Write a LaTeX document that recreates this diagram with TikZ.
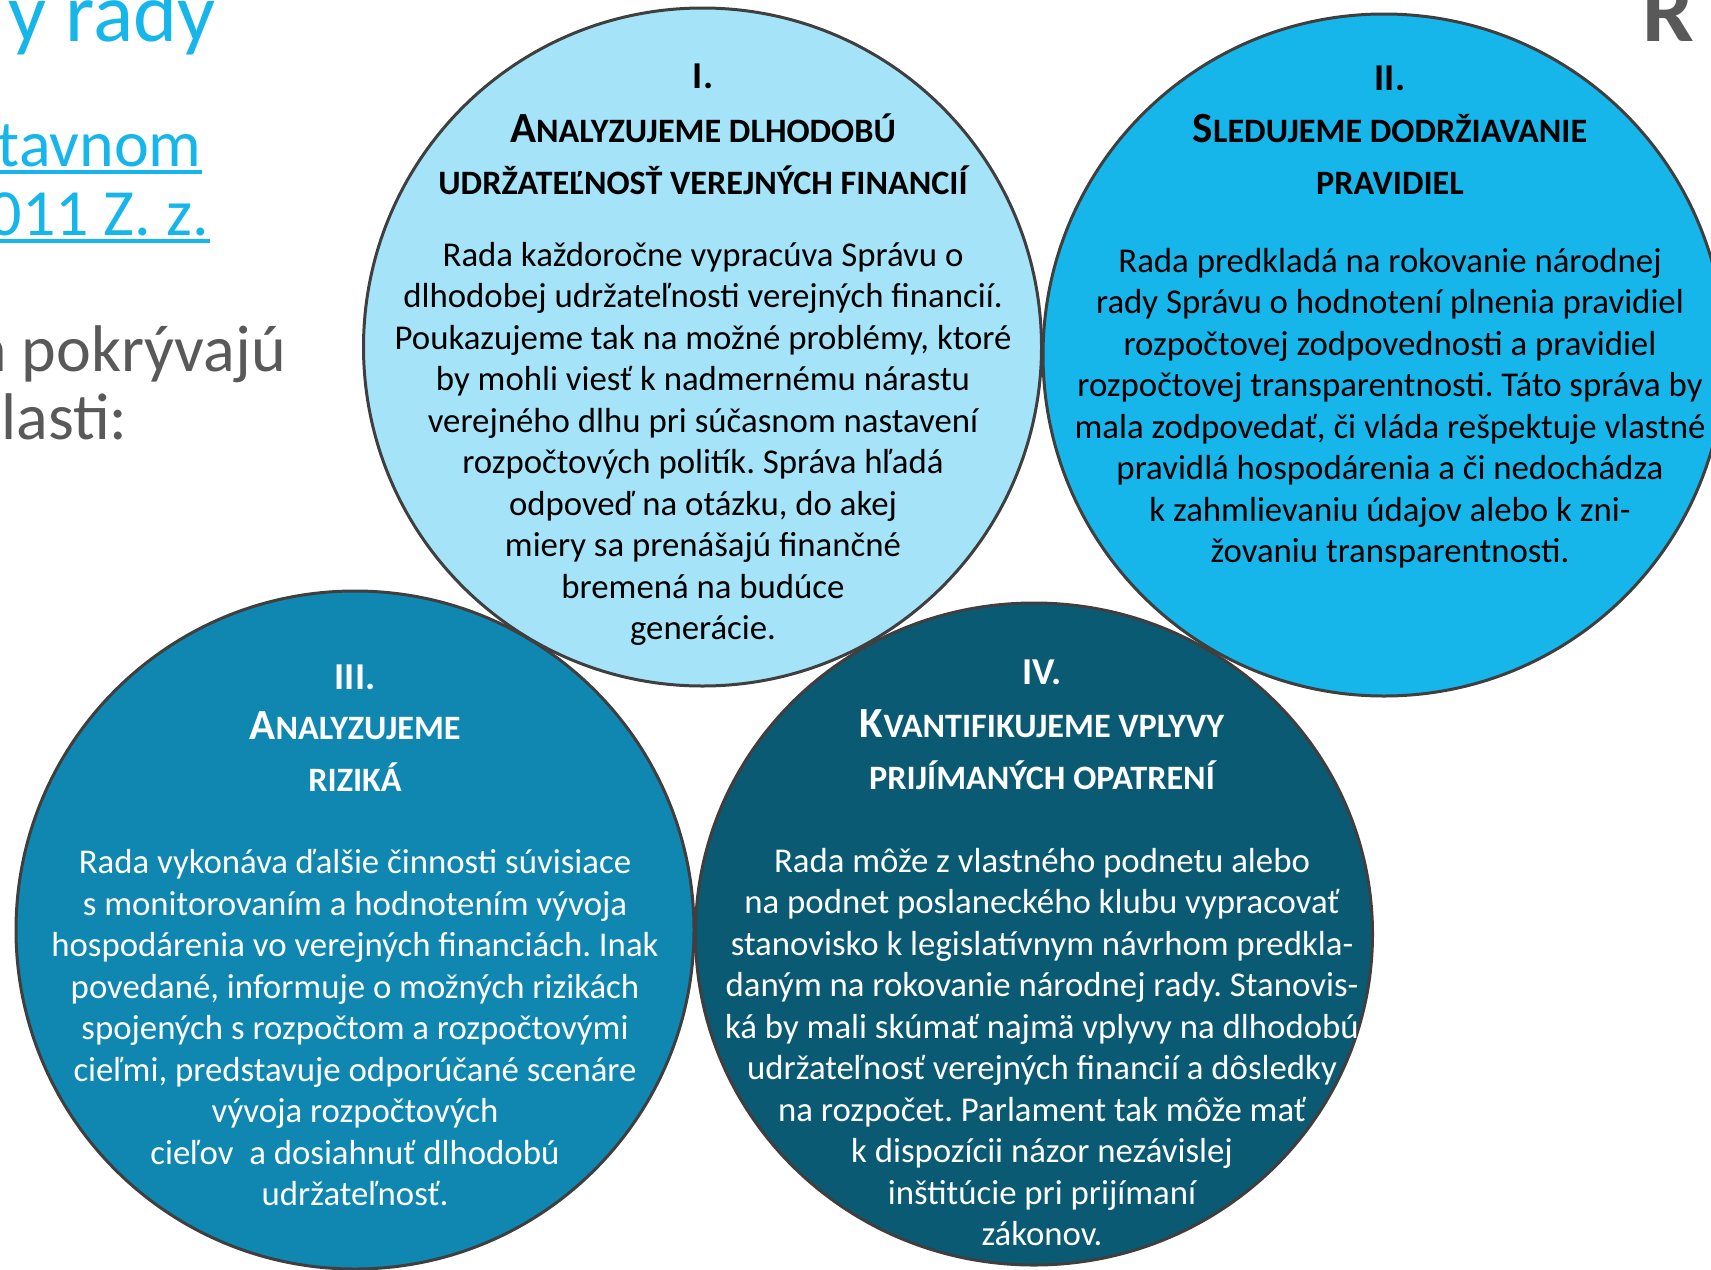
\documentclass[tikz,border=0pt]{standalone}
\usepackage{fontspec}
\setmainfont{Carlito}
\usepackage{tikz}
\usetikzlibrary{positioning}
\usetikzlibrary{shapes.geometric}
\definecolor{paleblue}{HTML}{A4E3F8}
\definecolor{skyblue}{HTML}{16B5EA}
\definecolor{deepblue}{HTML}{0F87B1}
\definecolor{navyblue}{HTML}{0B5A73}
\definecolor{rimgray}{HTML}{3F3F3F}
\definecolor{slidegray}{HTML}{595959}
\frenchspacing
\newcommand{\firstcap}[1]{{\fontsize{21.5}{26}\selectfont #1}}
\tikzset{bubble/.style={%
        circle,
        draw=rimgray,
        line width=1.5pt,
        minimum size=339pt,
        inner sep=0pt
    },
    numtxt/.style={font=\bfseries\fontsize{19}{26}\selectfont, inner sep=0pt},
    headtxt/.style={font=\bfseries\fontsize{17.1}{26}\selectfont, align=center, inner sep=0pt},
    bodytxt/.style={font=\fontsize{17.4}{20.75}\selectfont, align=center, inner sep=0pt},
    slidetxt/.style={anchor=base east, inner sep=0pt}}

\begin{document}
\begin{tikzpicture}[x=0.5pt,y=-0.5pt]
    \useasboundingbox (0,0) rectangle (1711,1269);
    \clip (0,0) rectangle (1711,1269);
    % slide text behind the circles
    \node [slidetxt, text=skyblue, font=\fontsize{42}{50}\selectfont] (ttl) at (216,41) {y rady};
    \node [slidetxt, text=skyblue, font=\fontsize{33}{40}\selectfont] (lawA) at (202,166) {stavnom};
    \node [slidetxt, text=skyblue, font=\fontsize{33}{40}\selectfont] (lawB) at (209.5,235) {011 Z. z.};
    \draw [skyblue, line width=1.6pt] ([yshift=-3pt]lawA.base west) -- ([yshift=-3pt]lawA.base east);
    \draw [skyblue, line width=1.6pt] ([yshift=-3pt]lawB.base west) -- ([yshift=-3pt]lawB.base east);
    \node [slidetxt, text=slidegray, font=\fontsize{33}{40}\selectfont] (areaA) at (286,371) {a pokrývajú};
    \node [slidetxt, text=slidegray, font=\fontsize{33}{40}\selectfont] (areaB) at (128,439) {blasti:};
    \node [slidetxt, anchor=base west, text=slidegray, font=\bfseries\fontsize{46}{50}\selectfont] (hdr) at (1642,41) {R};
    % the four circles
    \node [bubble, fill=deepblue] (circIII) at (355,930) {};
    \node [bubble, ellipse, fill=navyblue, minimum width=338.5pt, minimum height=331pt] (circIV) at (1034,934) {};
    \node [bubble, fill=paleblue] (circI) at (702.5,347) {};
    \node [bubble, fill=skyblue, minimum size=341pt] (circII) at (1384,355) {};
    % I.
    \node [numtxt] (numI) at (703,76) {I.};
    \node [headtxt] (headI) at (703,154) {\firstcap{A}NALYZUJEME DLHODOBÚ\\UDRŽATEĽNOSŤ VEREJNÝCH FINANCIÍ};
    \node [bodytxt] (bodyI) at (703,444) {Rada každoročne vypracúva Správu o\\dlhodobej udržateľnosti verejných financií.\\Poukazujeme tak na možné problémy, ktoré\\by mohli viesť k nadmernému nárastu\\verejného dlhu pri súčasnom nastavení\\rozpočtových politík. Správa hľadá\\odpoveď na otázku, do akej\\miery sa prenášajú finančné\\bremená na budúce\\generácie.};
    % II.
    \node [numtxt] (numII) at (1390,78) {II.};
    \node [headtxt] (headII) at (1390,154) {\firstcap{S}LEDUJEME DODRŽIAVANIE\\PRAVIDIEL};
    \node [bodytxt] (bodyII) at (1390,408) {Rada predkladá na rokovanie národnej\\rady Správu o hodnotení plnenia pravidiel\\rozpočtovej zodpovednosti a pravidiel\\rozpočtovej transparentnosti. Táto správa by\\mala zodpovedať, či vláda rešpektuje vlastné\\pravidlá hospodárenia a či nedochádza\\k zahmlievaniu údajov alebo k zni-\\žovaniu transparentnosti.};
    % III.
    \node [numtxt, text=white] (numIII) at (355,677) {III.};
    \node [headtxt, text=white] (headIII) at (355,752) {\firstcap{A}NALYZUJEME\\RIZIKÁ};
    \node [bodytxt, text=white] (bodyIII) at (355,1028) {Rada vykonáva ďalšie činnosti súvisiace\\s monitorovaním a hodnotením vývoja\\hospodárenia vo verejných financiách. Inak\\povedané, informuje o možných rizikách\\spojených s rozpočtom a rozpočtovými\\cieľmi, predstavuje odporúčané scenáre\\vývoja rozpočtových\\cieľov\ \ a dosiahnuť dlhodobú\\udržateľnosť.};
    % IV.
    \node [numtxt, text=white] (numIV) at (1042,672) {IV.};
    \node [headtxt, text=white] (headIV) at (1042,750) {\firstcap{K}VANTIFIKUJEME VPLYVY\\PRIJÍMANÝCH OPATRENÍ};
    \node [bodytxt, text=white] (bodyIV) at (1042,1047) {Rada môže z vlastného podnetu alebo\\na podnet poslaneckého klubu vypracovať\\stanovisko k legislatívnym návrhom predkla-\\daným na rokovanie národnej rady. Stanovis-\\ká by mali skúmať najmä vplyvy na dlhodobú\\udržateľnosť verejných financií a dôsledky\\na rozpočet. Parlament tak môže mať\\k dispozícii názor nezávislej\\inštitúcie pri prijímaní\\zákonov.};
\end{tikzpicture}
\end{document}
